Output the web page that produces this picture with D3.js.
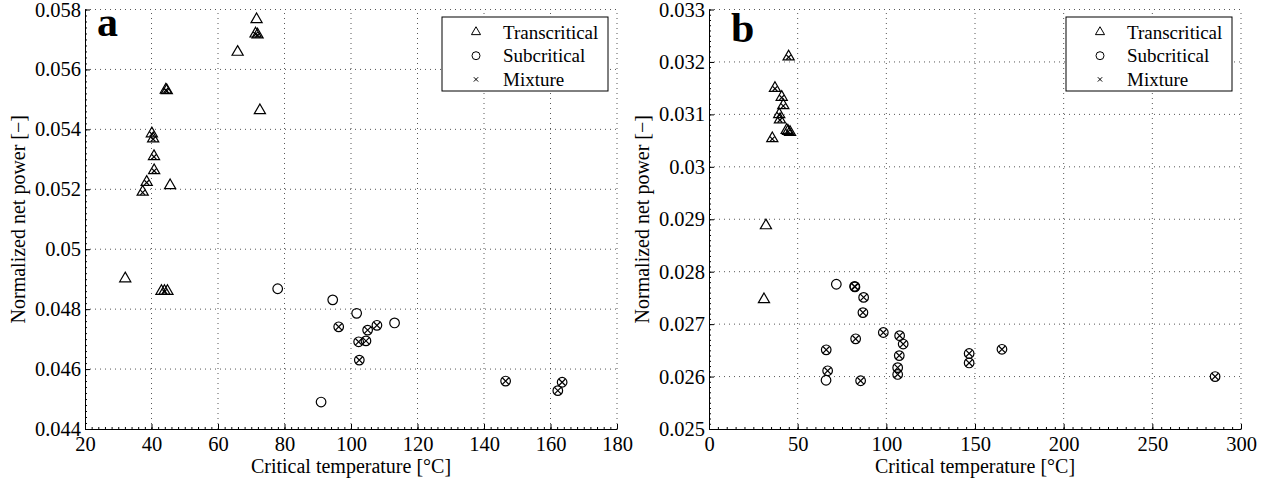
<!DOCTYPE html>
<html>
<head>
<meta charset="utf-8">
<script src="https://cdn.jsdelivr.net/npm/d3@7"></script>
<style>
  body { margin: 0; background: #fff; }
  text { font-family: 'Liberation Serif', 'Times New Roman', serif; fill: #000; }
</style>
</head>
<body>
<script>
// Panel a: critical temperature [°C] vs normalized net power
const aTranscritical = [[71.6, 0.05767], [65.9, 0.05658], [72.6, 0.05463], [45.6, 0.05213],
  [32.1, 0.04902], [43.0, 0.04860], [44.8, 0.04860]];
const aTranscriticalMix = [[71.3, 0.05719], [71.9, 0.05716], [44.3, 0.05532], [44.6, 0.05530],
  [40.1, 0.05386], [40.5, 0.05369], [40.75, 0.05310], [40.8, 0.05263], [38.55, 0.05224],
  [37.35, 0.05191], [43.9, 0.04860]];
const aSubcritical = [[77.95, 0.04868], [94.5, 0.04831], [91.0, 0.04490], [101.7, 0.04786],
  [113.1, 0.04754]];
const aSubcriticalMix = [[96.3, 0.04741], [107.8, 0.04746], [105.0, 0.04730], [104.5, 0.04694],
  [102.3, 0.04691], [102.5, 0.04630], [146.5, 0.04560], [163.5, 0.04556], [162.2, 0.04528]];

// Panel b
const bTranscritical = [[43.8, 0.03070], [45.7, 0.03066], [32.1, 0.02888], [31.0, 0.02747]];
const bTranscriticalMix = [[44.9, 0.03210], [37.2, 0.03150], [41.0, 0.03133], [41.9, 0.03117],
  [39.6, 0.03100], [40.0, 0.03090], [35.7, 0.03054], [44.6, 0.03068]];
const bSubcritical = [[71.8, 0.02776], [66.0, 0.02593]];
const bSubcriticalMix = [[82.1, 0.02772], [82.3, 0.02771], [87.2, 0.02751], [86.8, 0.02722],
  [98.3, 0.02684], [82.7, 0.02672], [107.5, 0.02678], [109.5, 0.02662], [107.3, 0.02640],
  [106.4, 0.02617], [106.4, 0.02604], [66.1, 0.02651], [66.9, 0.02611], [85.5, 0.02592],
  [146.7, 0.02644], [146.7, 0.02626], [165.2, 0.02652], [285.4, 0.02600]];

// Axis ticks
const aXTicks = [20, 40, 60, 80, 100, 120, 140, 160, 180];
const aYTicks = [0.044, 0.046, 0.048, 0.05, 0.052, 0.054, 0.056, 0.058];
const bXTicks = [0, 50, 100, 150, 200, 250, 300];
const bYTicks = [0.025, 0.026, 0.027, 0.028, 0.029, 0.03, 0.031, 0.032, 0.033];

const legendLabels = ['Transcritical', 'Subcritical', 'Mixture'];

const W = 1273, H = 485;
const svg = d3.select('body').append('svg')
  .attr('width', W).attr('height', H);

const fmtY = d => d3.format('.3~f')(d);

function drawPanel(cfg) {
  const g = svg.append('g');
  const x = d3.scaleLinear().domain(d3.extent(cfg.xTicks)).range([cfg.left, cfg.right]);
  const y = d3.scaleLinear().domain(d3.extent(cfg.yTicks)).range([cfg.bottom, cfg.top]);

  // dotted grid (also forms the top and right frame)
  const grid = g.append('g').attr('stroke', '#444').attr('stroke-width', 0.9)
    .attr('stroke-dasharray', '1,4');
  grid.selectAll('line.gx').data(cfg.xTicks.slice(1)).join('line')
    .attr('x1', d => x(d)).attr('x2', d => x(d))
    .attr('y1', cfg.bottom).attr('y2', cfg.top);
  grid.selectAll('line.gy').data(cfg.yTicks.slice(1)).join('line')
    .attr('y1', d => y(d)).attr('y2', d => y(d))
    .attr('x1', cfg.left).attr('x2', cfg.right);

  // minor ticks
  const xMinor = d3.range(0, (cfg.xTicks.length - 1) * 10 + 1).map(i =>
    cfg.xTicks[0] + i * (cfg.xTicks[1] - cfg.xTicks[0]) / 10);
  const yMinor = d3.range(0, (cfg.yTicks.length - 1) * 10 + 1).map(i =>
    cfg.yTicks[0] + i * (cfg.yTicks[1] - cfg.yTicks[0]) / 10);
  g.append('g').attr('transform', `translate(0,${cfg.bottom})`)
    .call(d3.axisBottom(x).tickValues(xMinor).tickSizeInner(-2).tickSizeOuter(0).tickFormat(''))
    .call(a => a.select('.domain').remove());
  g.append('g').attr('transform', `translate(${cfg.left},0)`)
    .call(d3.axisLeft(y).tickValues(yMinor).tickSizeInner(-2).tickSizeOuter(0).tickFormat(''))
    .call(a => a.select('.domain').remove());

  // major axes
  const xa = g.append('g').attr('transform', `translate(0,${cfg.bottom})`)
    .call(d3.axisBottom(x).tickValues(cfg.xTicks).tickSizeInner(-5).tickSizeOuter(0).tickPadding(7));
  const ya = g.append('g').attr('transform', `translate(${cfg.left},0)`)
    .call(d3.axisLeft(y).tickValues(cfg.yTicks).tickFormat(fmtY).tickSizeInner(-5).tickSizeOuter(0).tickPadding(4));
  [xa, ya].forEach(a => {
    a.selectAll('text').style('font-family', "'Liberation Serif', serif").style('font-size', '20.5px').attr('fill', '#000');
    a.select('.domain').attr('stroke', '#000');
  });

  // axis labels
  g.append('text').attr('x', (cfg.left + cfg.right) / 2).attr('y', 473)
    .attr('text-anchor', 'middle').style('font-size', '20px')
    .text('Critical temperature [°C]');
  g.append('text')
    .attr('transform', `translate(${cfg.ylabX},${(cfg.top + cfg.bottom) / 2}) rotate(-90)`)
    .attr('text-anchor', 'middle').style('font-size', '20px')
    .text('Normalized net power [\u2212]');

  // panel letter
  g.append('text').attr('x', cfg.letterX).attr('y', cfg.letterY)
    .style('font-size', '42px').style('font-weight', 'bold').text(cfg.letter);

  // markers
  const tri = d3.symbol().type(d3.symbolTriangle).size(54);
  const cross = d3.symbol().type(d3.symbolX);
  const marks = g.append('g').attr('fill', 'none').attr('stroke', '#000').attr('stroke-width', 1.2);
  marks.selectAll('path.tri').data(cfg.trans.concat(cfg.transMix)).join('path')
    .attr('class', 'tri')
    .attr('d', tri)
    .attr('transform', d => `translate(${x(d[0])},${y(d[1])})`);
  marks.selectAll('path.tx').data(cfg.transMix).join('path')
    .attr('class', 'tx')
    .attr('d', cross.size(16))
    .attr('transform', d => `translate(${x(d[0])},${y(d[1]) + 0.5})`);
  marks.selectAll('circle').data(cfg.sub.concat(cfg.subMix)).join('circle')
    .attr('cx', d => x(d[0])).attr('cy', d => y(d[1])).attr('r', 4.8);
  marks.selectAll('path.cx').data(cfg.subMix).join('path')
    .attr('class', 'cx')
    .attr('d', d3.symbol().type(d3.symbolX).size(30))
    .attr('transform', d => `translate(${x(d[0])},${y(d[1])})`);

  // legend
  const lg = g.append('g').attr('transform', `translate(${cfg.legX},17)`);
  lg.append('rect').attr('width', cfg.legW).attr('height', 74)
    .attr('fill', '#fff').attr('stroke', '#000').attr('stroke-width', 1);
  const rows = lg.selectAll('g.row').data(legendLabels).join('g')
    .attr('transform', (d, i) => `translate(0,${15 + i * 23.7})`);
  rows.append('text').attr('x', 61).attr('y', 6.5).style('font-size', '19px').text(d => d);
  const lm = rows.append('g').attr('transform', 'translate(34,0)')
    .attr('fill', 'none').attr('stroke', '#000').attr('stroke-width', 1);
  lm.filter((d, i) => i === 0).append('path').attr('d', d3.symbol().type(d3.symbolTriangle).size(36));
  lm.filter((d, i) => i === 1).append('circle').attr('r', 4);
  lm.filter((d, i) => i === 2).append('path').attr('d', d3.symbol().type(d3.symbolX).size(14));
}

drawPanel({
  left: 85, right: 617, top: 9.5, bottom: 429,
  xTicks: aXTicks, yTicks: aYTicks, ylabX: 25,
  letter: 'a', letterX: 97, letterY: 36,
  trans: aTranscritical, transMix: aTranscriticalMix, sub: aSubcritical, subMix: aSubcriticalMix,
  legX: 442, legW: 166
});

drawPanel({
  left: 709, right: 1241, top: 9.5, bottom: 429,
  xTicks: bXTicks, yTicks: bYTicks, ylabX: 649,
  letter: 'b', letterX: 731, letterY: 42,
  trans: bTranscritical, transMix: bTranscriticalMix, sub: bSubcritical, subMix: bSubcriticalMix,
  legX: 1066, legW: 166
});
</script>
</body>
</html>
